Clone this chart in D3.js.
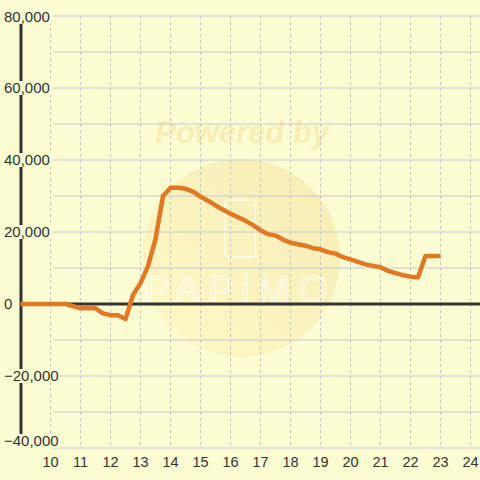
<!DOCTYPE html>
<html><head><meta charset="utf-8">
<script src="https://cdn.jsdelivr.net/npm/d3@7"></script>
<style>html,body{margin:0;padding:0;background:#fcfcd2;}svg{display:block;}</style>
</head><body>
<svg id="chart" width="480" height="480"></svg>
<script>
const hours = [9.0,9.25,9.5,9.75,10.0,10.25,10.5,10.75,11.0,11.25,11.5,11.75,12.0,12.25,12.5,12.75,13.0,13.25,13.5,13.75,14.0,14.25,14.5,14.75,15.0,15.25,15.5,15.75,16.0,16.25,16.5,16.75,17.0,17.25,17.5,17.75,18.0,18.25,18.5,18.75,19.0,19.25,19.5,19.75,20.0,20.25,20.5,20.75,21.0,21.25,21.5,21.75,22.0,22.25,22.5,22.75,23.0];
const values = [0,0,0,0,0,0,0,-600,-1200,-1200,-1200,-2600,-3100,-3100,-4200,2500,5800,10500,18000,30000,32300,32300,32000,31200,29800,28700,27400,26200,25100,24100,23100,21900,20500,19400,19000,17900,17000,16600,16200,15500,15200,14400,14000,13000,12400,11700,11000,10600,10200,9200,8600,8000,7600,7400,13300,13300,13300];
const xTicks = [10,11,12,13,14,15,16,17,18,19,20,21,22,23,24];
const yTicks = [-40000,-30000,-20000,-10000,0,10000,20000,30000,40000,50000,60000,70000,80000];
const yLabelTicks = [-40000,-20000,0,20000,40000,60000,80000];

const svg = d3.select("#chart");
const bg = "#fcfcd2";
const x = d3.scaleLinear().domain([9, 25]).range([20.5, 500.5]);
const y = d3.scaleLinear().domain([-40000, 80000]).range([448, 16]);

svg.append("rect").attr("width",480).attr("height",480).attr("fill",bg);

// watermark
const defs = svg.append("defs");
const g = defs.append("linearGradient").attr("id","wm").attr("x1","0").attr("y1","1").attr("x2","1").attr("y2","0");
g.append("stop").attr("offset","0").attr("stop-color","#fdf8c4");
g.append("stop").attr("offset","1").attr("stop-color","#f6eab0");
svg.append("circle").attr("cx",241).attr("cy",258).attr("r",99).attr("fill","url(#wm)").attr("opacity",0.85);
svg.append("text").attr("x",242).attr("y",143).attr("text-anchor","middle")
  .attr("font-family","Liberation Sans, Arial, sans-serif").attr("font-weight","bold").attr("font-style","italic")
  .attr("font-size",31).attr("fill","#f6eeb4").text("Powered by");
svg.append("rect").attr("x",225).attr("y",200).attr("width",30).attr("height",57).attr("rx",3)
  .attr("fill","none").attr("stroke","#ffffff").attr("stroke-width",1.5).attr("opacity",0.7);
svg.append("text").attr("x",240).attr("y",303).attr("text-anchor","middle")
  .attr("font-family","Liberation Sans, Arial, sans-serif").attr("font-size",38).attr("letter-spacing",8)
  .attr("fill","none").attr("stroke","#ffffff").attr("stroke-width",1.2).attr("opacity",0.7).text("PAPiMO");

// horizontal gridlines
svg.append("g").selectAll("line").data(yTicks.filter(v=>v!==0)).join("line")
  .attr("x1",53).attr("x2",480).attr("y1",d=>y(d)).attr("y2",d=>y(d))
  .attr("stroke","#c8c8d2").attr("stroke-width",1);
// vertical dashed gridlines
svg.append("g").selectAll("line").data(xTicks).join("line")
  .attr("x1",d=>x(d)).attr("x2",d=>x(d)).attr("y1",16).attr("y2",448)
  .attr("stroke","#c4c4cc").attr("stroke-width",1).attr("stroke-dasharray","3,3");

// zero line
svg.append("line").attr("x1",20).attr("x2",480).attr("y1",y(0)).attr("y2",y(0))
  .attr("stroke","#333333").attr("stroke-width",3);
// y axis line
svg.append("line").attr("x1",21).attr("x2",21).attr("y1",16).attr("y2",448)
  .attr("stroke","#333333").attr("stroke-width",3);

// series line
const line = d3.line().x((d,i)=>x(hours[i])).y(d=>y(d));
svg.append("path").datum(values).attr("d",line).attr("fill","none")
  .attr("stroke","#e07824").attr("stroke-width",4.5).attr("stroke-linejoin","round").attr("stroke-linecap","butt");

// y labels with background
const fmt = d3.format(",");
const yl = svg.append("g").attr("font-family","Liberation Sans, Arial, sans-serif").attr("font-size",15).attr("fill","#333333");
yLabelTicks.forEach(v=>{
  const yy = Math.min(Math.max(y(v), 17), 441);
  const t = yl.append("text").attr("x",4).attr("y",yy).attr("dy","0.35em").text(fmt(v));
  const bb = t.node().getBBox();
  if (v!==0) yl.insert("rect","text").attr("x",bb.x-1).attr("y",yy-7).attr("width",bb.width+2).attr("height",14).attr("fill",bg);
});
// x labels
svg.append("g").attr("font-family","Liberation Sans, Arial, sans-serif").attr("font-size",14.5).attr("fill","#333333")
  .selectAll("text").data(xTicks).join("text")
  .attr("x",d=>x(d)).attr("y",467).attr("text-anchor","middle").text(d=>d);
</script>
</body></html>
